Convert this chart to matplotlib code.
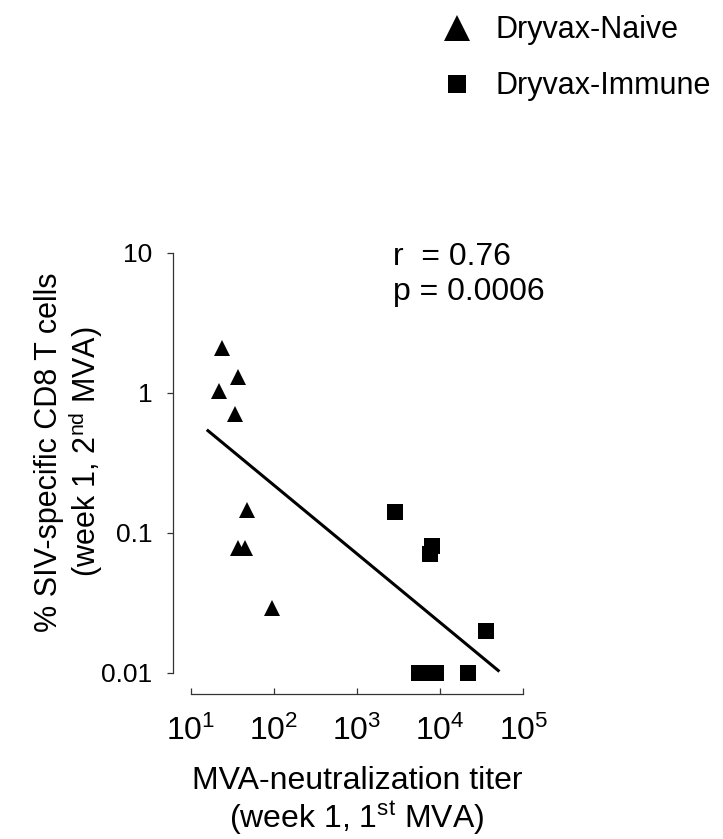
import numpy as np
import matplotlib
matplotlib.use('Agg')
import matplotlib.pyplot as plt
from matplotlib.lines import Line2D
from matplotlib.ticker import FixedLocator, FuncFormatter

plt.rcParams['font.family'] = ['Liberation Sans', 'DejaVu Sans']

# Данные
naive_x = [24, 37, 22, 34, 47, 37, 45, 94]
naive_y = [2.1, 1.3, 1.03, 0.70, 0.146, 0.078, 0.078, 0.029]
immune_x = [2850, 8000, 7500, 35700, 5550, 6900, 8800, 21500]
immune_y = [0.14, 0.08, 0.07, 0.02, 0.01, 0.01, 0.01, 0.01]

# Линия регрессии (концы)
fit_x = [15.6, 51600]
fit_y = [0.544, 0.0102]

x_ticks = [1e1, 1e2, 1e3, 1e4, 1e5]
y_ticks = [0.01, 0.1, 1, 10]
y_tick_labels = ['0.01', '0.1', '1', '10']

r_text = 'r  = 0.76'
p_text = 'p = 0.0006'

fig = plt.figure(figsize=(7.23, 8.39), dpi=100)
ax = fig.add_axes([0.2638, 0.1982, 0.46, 0.5006])

ax.plot(naive_x, naive_y, linestyle='none', marker='^', ms=11, color='black',
        mew=0, clip_on=False)
ax.plot(immune_x, immune_y, linestyle='none', marker='s', ms=11, color='black',
        mew=0, clip_on=False)
ax.plot(fit_x, fit_y, color='black', lw=2.2, solid_capstyle='butt')

ax.set_xscale('log')
ax.set_yscale('log')
ax.set_xlim(1e1, 1e5)
ax.set_ylim(0.01, 10)

# Оси со смещением
for s in ['top', 'right']:
    ax.spines[s].set_visible(False)
ax.spines['left'].set_position(('outward', 12.7))
ax.spines['bottom'].set_position(('outward', 15.3))
for s in ['left', 'bottom']:
    ax.spines[s].set_linewidth(0.9)
    ax.spines[s].set_color('#333333')

ax.xaxis.set_major_locator(FixedLocator(x_ticks))
ax.xaxis.set_minor_locator(FixedLocator([]))
ax.xaxis.set_major_formatter(FuncFormatter(
    lambda v, pos: r'$\mathregular{10^{%d}}$' % round(np.log10(v))))
ax.yaxis.set_major_locator(FixedLocator(y_ticks))
ax.yaxis.set_minor_locator(FixedLocator([]))
ax.set_yticklabels(y_tick_labels)

ax.tick_params(axis='y', direction='out', length=4, width=0.9, color='#333333',
               pad=11, labelsize=19)
ax.tick_params(axis='x', direction='in', length=4, width=0.9, color='#333333',
               pad=16, labelsize=23)

ax.set_xlabel('MVA-neutralization titer\n(week 1, 1$\\mathregular{^{st}}$ MVA)',
              fontsize=23, linespacing=1.12)
ax.xaxis.set_label_coords(0.5, -0.222)
ax.set_ylabel('% SIV-specific CD8 T cells\n(week 1, 2$\\mathregular{^{nd}}$ MVA)',
              fontsize=22, linespacing=1.06)
ax.yaxis.set_label_coords(-0.258, 0.525)

ax.text(0.608, 0.99, r_text, transform=ax.transAxes, fontsize=23,
        ha='left', va='center')
ax.text(0.608, 0.906, p_text, transform=ax.transAxes, fontsize=23,
        ha='left', va='center')

# Легенда
handles = [Line2D([], [], linestyle='none', marker='^', ms=19, color='black', mew=0),
           Line2D([], [], linestyle='none', marker='s', ms=13, color='black', mew=0)]
fig.legend(handles, ['Dryvax-Naive', 'Dryvax-Immune'], loc='upper left',
           bbox_to_anchor=(0.586, 1.0), frameon=False, fontsize=22,
           handlelength=1.2, handletextpad=0.64, labelspacing=0.85, borderpad=0.0)

fig.savefig('out.png', dpi=100)
